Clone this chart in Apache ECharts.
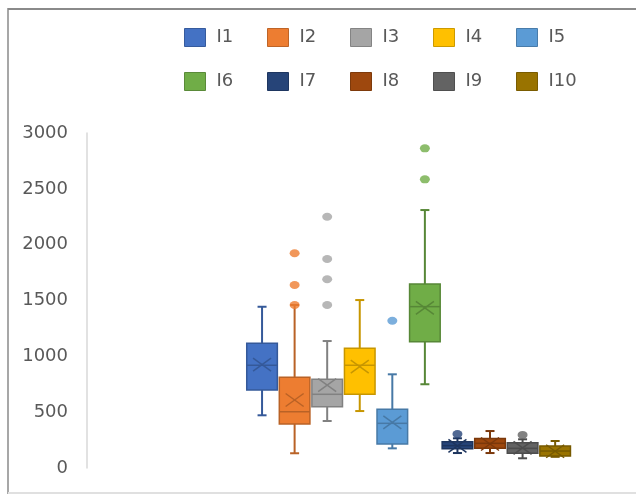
<!DOCTYPE html>
<html>
<head>
<meta charset="utf-8">
<script src="https://cdn.jsdelivr.net/npm/echarts@6/dist/echarts.min.js"></script>
<style>
html,body{margin:0;padding:0;background:#fff;}
#chart{width:636px;height:500px;}
</style>
</head>
<body>
<div id="chart"></div>
<script>
// ---- data ----
const seriesNames = ['I1','I2','I3','I4','I5','I6','I7','I8','I9','I10'];
const colors = ['#4472C4','#ED7D31','#A5A5A5','#FFC000','#5B9BD5','#70AD47','#264478','#9E480E','#636363','#997300'];
const mins    = [472, 132, 421, 510, 176, 750, 134, 134,  87, 100];
const q1s     = [698, 394, 549, 660, 215, 1131, 172, 176, 131, 107];
const medians = [920, 504, 660, 920, 400, 1445, 200, 221, 176, 152];
const q3s     = [1117, 812, 794, 1072, 526, 1648, 235, 265, 227, 197];
const maxs    = [1444, 1460, 1137, 1504, 839, 2310, 266, 331, 257, 242];
const means   = [925, 609, 743, 907, 409, 1433, 198, 215, 180, 150];
const outliers = [[], [1460, 1639, 1923], [1460, 1690, 1872, 2250], [], [1319], [2585, 2863], [304], [], [296], []];
const yTicks = {min: 0, max: 3000, interval: 500};

function shade(hex, f) {
  const n = parseInt(hex.slice(1), 16);
  const r = Math.round(((n >> 16) & 255) * f), g = Math.round(((n >> 8) & 255) * f), b = Math.round((n & 255) * f);
  return 'rgb(' + r + ',' + g + ',' + b + ')';
}

function renderItem(params, api) {
  const x = api.value(0);
  const color = api.visual('color');
  const dark = shade(colors[x], 0.78);
  const pMin = api.coord([x, api.value(1)]);
  const pQ1 = api.coord([x, api.value(2)]);
  const pMed = api.coord([x, api.value(3)]);
  const pQ3 = api.coord([x, api.value(4)]);
  const pMax = api.coord([x, api.value(5)]);
  const pMean = api.coord([x, api.value(6)]);
  const cx = pMed[0];
  const bw = api.size([1, 0])[0] * 0.94;
  const cap = 4.5;
  const ls = {stroke: dark, lineWidth: 2, fill: null};
  const thin = {stroke: dark, lineWidth: 1.5, fill: null};
  return {
    type: 'group',
    children: [
      {type: 'line', shape: {x1: cx, y1: pMin[1], x2: cx, y2: pQ1[1]}, style: ls},
      {type: 'line', shape: {x1: cx, y1: pQ3[1], x2: cx, y2: pMax[1]}, style: ls},
      {type: 'line', shape: {x1: cx - cap, y1: pMin[1], x2: cx + cap, y2: pMin[1]}, style: ls},
      {type: 'line', shape: {x1: cx - cap, y1: pMax[1], x2: cx + cap, y2: pMax[1]}, style: ls},
      {type: 'rect', shape: {x: cx - bw / 2, y: pQ3[1], width: bw, height: pQ1[1] - pQ3[1]}, style: {fill: color, stroke: dark, lineWidth: 1.5}},
      {type: 'line', shape: {x1: cx - bw / 2, y1: pMed[1], x2: cx + bw / 2, y2: pMed[1]}, style: thin},
      {type: 'line', shape: {x1: cx - 9, y1: pMean[1] - 6.5, x2: cx + 9, y2: pMean[1] + 6.5}, style: thin},
      {type: 'line', shape: {x1: cx - 9, y1: pMean[1] + 6.5, x2: cx + 9, y2: pMean[1] - 6.5}, style: thin}
    ]
  };
}

const series = [];
seriesNames.forEach(function (name, i) {
  series.push({
    name: name,
    type: 'custom',
    renderItem: renderItem,
    itemStyle: {color: colors[i]},
    encode: {x: 0, y: [1, 2, 3, 4, 5, 6]},
    data: [[i, mins[i], q1s[i], medians[i], q3s[i], maxs[i], means[i]]],
    z: 2
  });
});
seriesNames.forEach(function (name, i) {
  series.push({
    name: name,
    type: 'scatter',
    symbol: 'circle',
    symbolSize: [10, 8],
    itemStyle: {color: colors[i]},
    data: outliers[i].map(function (v) { return [i, v]; }),
    z: 3
  });
});

// one legend per item so the columns line up like the original
const legends = seriesNames.map(function (n, i) {
  return {
    left: 184 + (i % 5) * 83,
    top: i < 5 ? 28 : 72,
    padding: 0,
    itemWidth: 21, itemHeight: 18,
    icon: 'rect',
    data: [{name: n, itemStyle: {color: colors[i], borderColor: shade(colors[i], 0.8), borderWidth: 1}}],
    textStyle: {fontFamily: 'DejaVu Sans', fontSize: 18, color: '#595959', padding: [0, 0, 0, 6]}
  };
});

const chart = echarts.init(document.getElementById('chart'));
chart.setOption({
  animation: false,
  backgroundColor: '#fff',
  legend: legends,
  grid: {left: 87, top: 133, bottom: 32, right: 32},
  xAxis: {type: 'value', min: -5.375, max: 10.5, show: false},
  yAxis: {
    type: 'value', min: yTicks.min, max: yTicks.max, interval: yTicks.interval,
    axisLine: {show: true, onZero: false, lineStyle: {color: '#d9d9d9', width: 1.5}},
    axisTick: {show: false},
    splitLine: {show: false},
    axisLabel: {fontFamily: 'DejaVu Sans', fontSize: 18, color: '#595959', margin: 19,
      formatter: function (v) { return String(v); }}
  },
  graphic: [
    {type: 'line', shape: {x1: 8, y1: 9, x2: 636, y2: 9}, style: {stroke: '#8a8a8a', lineWidth: 2}},
    {type: 'line', shape: {x1: 8, y1: 8, x2: 8, y2: 494}, style: {stroke: '#8a8a8a', lineWidth: 1.5}},
    {type: 'line', shape: {x1: 8, y1: 493, x2: 636, y2: 493}, style: {stroke: '#e0e0e0', lineWidth: 2}}
  ],
  series: series
});
</script>
</body>
</html>
